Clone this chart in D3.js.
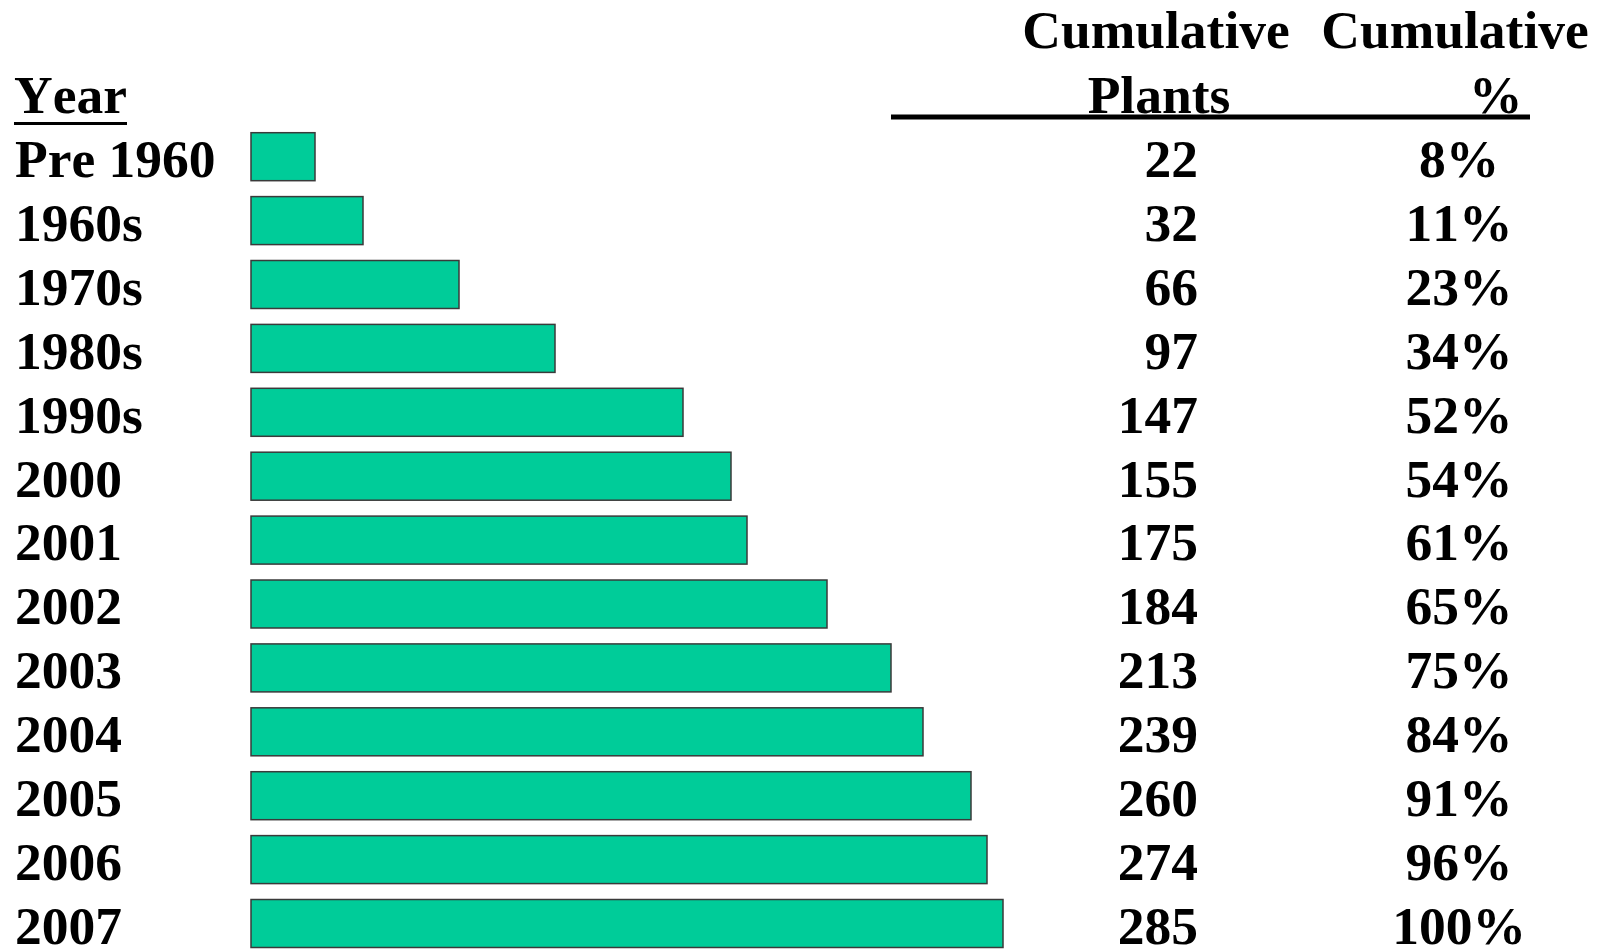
<!DOCTYPE html>
<html>
<head>
<meta charset="utf-8">
<script src="https://cdn.jsdelivr.net/npm/d3@7"></script>
<style>
  html, body { margin: 0; padding: 0; background: #ffffff; }
  svg { display: block; }
  text { font-family: "Liberation Serif", "Times New Roman", serif; font-weight: bold; fill: #000;
         font-kerning: none; font-feature-settings: "kern" 0; }
</style>
</head>
<body>
<svg id="chart" width="1608" height="949"></svg>
<script>
// ---- data ----
const categories = ["Pre 1960", "1960s", "1970s", "1980s", "1990s", "2000", "2001", "2002", "2003", "2004", "2005", "2006", "2007"];
const cumulativePlants = [22, 32, 66, 97, 147, 155, 175, 184, 213, 239, 260, 274, 285];
const cumulativePercent = [8, 11, 23, 34, 52, 54, 61, 65, 75, 84, 91, 96, 100];
// bar lengths as drawn in the picture (relative units)
const barLengths = [4, 7, 13, 19, 27, 30, 31, 36, 40, 42, 45, 46, 47];
const headerYear = "Year";
const headerPlants = ["Cumulative", "Plants"];
const headerPercent = ["Cumulative", "%"];

// ---- layout ----
const svg = d3.select("#chart");
const fontSize = 53.5;

const x = d3.scaleLinear().domain([0, 47]).range([251, 1003]);
const y = d3.scaleBand().domain(categories).range([132.7, 947.5])
  .paddingInner(0.249).paddingOuter(0);

// headers
svg.append("text").attr("x", 14).attr("y", 113).attr("font-size", fontSize).text(headerYear);
svg.append("line").attr("x1", 14).attr("x2", 127).attr("y1", 123.5).attr("y2", 123.5)
  .attr("stroke", "#000").attr("stroke-width", 3);

svg.append("text").attr("x", 1156).attr("y", 48).attr("text-anchor", "middle")
  .attr("font-size", fontSize).text(headerPlants[0]);
svg.append("text").attr("x", 1159).attr("y", 113).attr("text-anchor", "middle")
  .attr("font-size", fontSize).text(headerPlants[1]);
svg.append("text").attr("x", 1455).attr("y", 48).attr("text-anchor", "middle")
  .attr("font-size", fontSize).text(headerPercent[0]);
svg.append("text").attr("x", 1469).attr("y", 113).attr("text-anchor", "start")
  .attr("font-size", fontSize).text(headerPercent[1]);

svg.append("line").attr("x1", 891).attr("x2", 1530).attr("y1", 117).attr("y2", 117)
  .attr("stroke", "#000").attr("stroke-width", 5);

// rows
const rows = svg.append("g").selectAll("g").data(categories).join("g");

rows.append("rect")
  .attr("x", x(0))
  .attr("y", d => y(d))
  .attr("width", (d, i) => x(barLengths[i]) - x(0))
  .attr("height", y.bandwidth())
  .attr("fill", "#00CC99")
  .attr("stroke", "#3a3a3a")
  .attr("stroke-width", 1.5);

rows.append("text")
  .attr("x", 15)
  .attr("y", d => y(d) + 44.3)
  .attr("font-size", fontSize)
  .text(d => d);

rows.append("text")
  .attr("x", 1198)
  .attr("y", d => y(d) + 44.3)
  .attr("text-anchor", "end")
  .attr("font-size", fontSize)
  .text((d, i) => cumulativePlants[i]);

rows.append("text")
  .attr("x", 1459)
  .attr("y", d => y(d) + 44.3)
  .attr("text-anchor", "middle")
  .attr("font-size", fontSize)
  .text((d, i) => cumulativePercent[i] + "%");
</script>
</body>
</html>
